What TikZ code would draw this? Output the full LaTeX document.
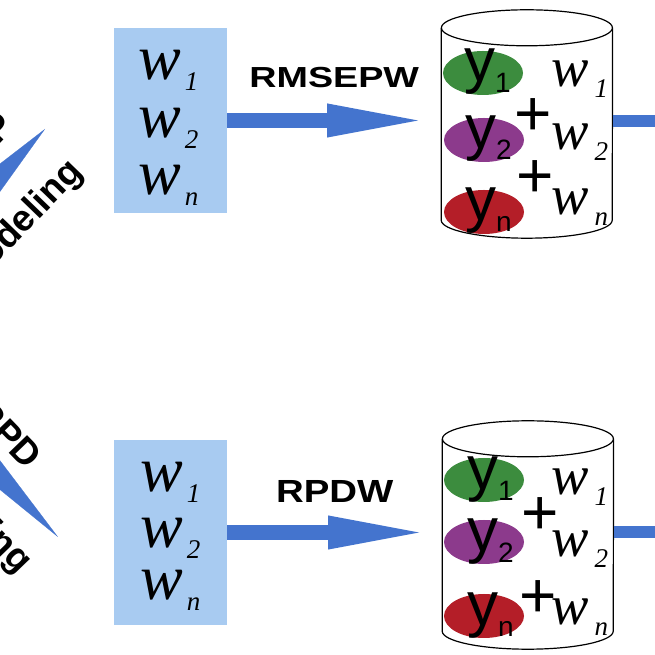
\documentclass[tikz,border=0pt]{standalone}
\usepackage{fontspec}
\setmainfont{Liberation Serif}
\setsansfont{Liberation Sans}
\usepackage{graphicx}
\usetikzlibrary{arrows.meta, positioning, calc, shapes.geometric}
\definecolor{boxblue}{RGB}{168,203,241}
\definecolor{arrowblue}{RGB}{68,116,206}
\definecolor{ygreen}{RGB}{60,140,62}
\definecolor{ypurple}{RGB}{140,58,140}
\definecolor{yred}{RGB}{180,30,40}
\newcommand{\wvar}[2][4pt]{\textit{w}\kern#1\raisebox{-11pt}{\fontsize{27}{27}\selectfont\textit{#2}}}
\newcommand{\yvar}[1]{y\raisebox{-11pt}{\fontsize{28}{28}\selectfont #1}}
\newcommand{\drum}[1]{%
  \draw[line width=1.2pt] ($(#1.north)+(0pt,-18pt)$) ellipse [x radius=85.5pt, y radius=18pt];
  \draw[line width=1.2pt] ($(#1.north west)+(0pt,-18pt)$) -- ($(#1.south west)+(0pt,18pt)$)
    arc [start angle=180, end angle=360, x radius=85.5pt, y radius=18pt] -- ($(#1.north east)+(0pt,-18pt)$);
}

\begin{document}
\begin{tikzpicture}[
  x=1pt, y=1pt,
  wbox/.style={fill=boxblue, minimum width=113pt, minimum height=185pt, inner sep=0pt},
  db/.style={minimum width=171pt, minimum height=228pt, inner sep=0pt},
  wtxt/.style={font=\fontsize{64}{64}\selectfont, inner sep=0pt, anchor=base west},
  cw/.style={font=\fontsize{56}{56}\selectfont, inner sep=0pt, anchor=base west},
  ytxt/.style={font=\sffamily\fontsize{62}{62}\selectfont, inner sep=0pt, anchor=base west},
  blob/.style={ellipse, minimum width=80pt, minimum height=44pt, inner sep=0pt},
  plus/.style={font=\sffamily\fontsize{64}{64}\selectfont, inner sep=0pt},
  arr/.style={draw=arrowblue, line width=15pt, -{Triangle[length=105pt, width=29pt]}, shorten >=9pt},
  exitarr/.style={draw=arrowblue, line width=12pt},
  wedge/.style={draw=arrowblue, fill=arrowblue, line width=0.2pt},
  lbl/.style={font=\sffamily\bfseries, inner sep=0pt},
  side/.style={font=\sffamily\bfseries\fontsize{37}{37}\selectfont, inner sep=0pt, anchor=base east}
]
  \useasboundingbox (0,0) rectangle (655,655);
  \fill[white] (0,0) rectangle (655,655);
  \clip (0,0) rectangle (655,655);

  % Left wedges and their captions
  \coordinate (tipA) at (45,526);
  \coordinate (srcA) at ($(tipA)+(226:250pt)$);
  \draw[wedge, -{Triangle[length=150pt, width=44pt]}] (srcA) -- (tipA);
  \node[side, rotate=46] (capA) at (15.3,526.9) {RMSEP};
  \node[side, rotate=46] (modA) at (84,482) {Modeling};

  \coordinate (tipB) at (58,118);
  \coordinate (srcB) at ($(tipB)+(134:250pt)$);
  \draw[wedge, -{Triangle[length=150pt, width=36pt]}] (srcB) -- (tipB);
  \node[side, rotate=-46] (capB) at (26.4,183.8) {RPD};
  \node[side, rotate=-46] (modB) at (18.4,79.8) {Modeling};

  % Upper row
  \node[wbox] (box1) at (170.5,534.5) {};
  \node[wtxt] (w11) at (138,575) {\wvar{1}};
  \node[wtxt] (w12) at (138,517) {\wvar{2}};
  \node[wtxt] (w1n) at (138,460) {\wvar{n}};

  \node[db, right=214pt of box1, yshift=-3.5pt] (db1) {};
  \node[blob, fill=ygreen] (e11) at (483,582) {};
  \node[blob, fill=ypurple] (e12) at (484,515) {};
  \node[blob, fill=yred] (e1n) at (484,443) {};
  \drum{db1}
  \node[ytxt] (y11) at ($(e11.center)+(-19pt,-9pt)$) {\yvar{1}};
  \node[ytxt] (y12) at ($(e12.center)+(-19pt,-9pt)$) {\yvar{2}};
  \node[ytxt] (y1n) at ($(e1n.center)+(-19pt,-9pt)$) {\yvar{n}};
  \node[plus] (p11) at (533,538) {+};
  \node[plus] (p12) at (535,476) {+};
  \node[cw] (c11) at (551,568) {\wvar[6pt]{1}};
  \node[cw] (c12) at (551,505) {\wvar[6pt]{2}};
  \node[cw] (c1n) at (551,440) {\wvar[6pt]{n}};

  \draw[arr] (box1.east) -- (box1.east -| db1.west)
    node[lbl, midway, above=25pt, font=\sffamily\bfseries\fontsize{29}{29}\selectfont] (lab1) {\scalebox{1.3}[1]{RMSEPW}};
  \coordinate (exit1) at (690,534);
  \draw[exitarr] (db1.east |- exit1) -- (exit1);

  % Lower row
  \node[wbox] (box2) at (170.5,122.5) {};
  \node[wtxt] (w21) at (140,163) {\wvar{1}};
  \node[wtxt] (w22) at (140,107) {\wvar{2}};
  \node[wtxt] (w2n) at (140,55) {\wvar{n}};

  \node[db, right=215pt of box2, yshift=-2.5pt] (db2) {};
  \node[blob, fill=ygreen] (e21) at (484,175) {};
  \node[blob, fill=ypurple] (e22) at (484,113) {};
  \node[blob, fill=yred] (e2n) at (484,39) {};
  \drum{db2}
  \node[ytxt] (y21) at ($(e21.center)+(-17pt,-10pt)$) {\yvar{1}};
  \node[ytxt] (y22) at ($(e22.center)+(-17pt,-10pt)$) {\yvar{2}};
  \node[ytxt] (y2n) at ($(e2n.center)+(-17pt,-10pt)$) {\yvar{n}};
  \node[plus] (p21) at (540,139) {+};
  \node[plus] (p22) at (538,56) {+};
  \node[cw] (c21) at (551,160) {\wvar[6pt]{1}};
  \node[cw] (c22) at (551,98) {\wvar[6pt]{2}};
  \node[cw] (c2n) at (551,30) {\wvar[6pt]{n}};

  \draw[arr] (box2.east) -- (box2.east -| db2.west)
    node[lbl, midway, above=22pt, font=\sffamily\bfseries\fontsize{32}{32}\selectfont] (lab2) {\scalebox{1.2}[1]{RPDW}};
  \coordinate (exit2) at (690,122.5);
  \draw[exitarr] (db2.east |- exit2) -- (exit2);
\end{tikzpicture}
\end{document}
